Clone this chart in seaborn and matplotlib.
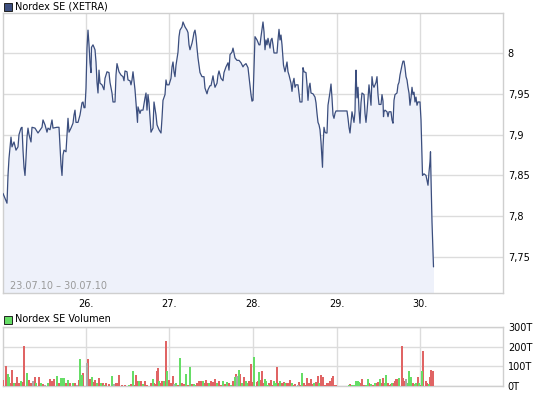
import matplotlib
matplotlib.use("Agg")
import matplotlib.pyplot as plt
import seaborn as sns
import pandas as pd

# ---------------- data ----------------
# time axis in intraday bar units (about one bar per pixel column), 23.07 -> 30.07
bar_t = [0, 2, 4, 5, 6, 7, 8, 9, 11, 13, 15, 16, 18, 19, 20, 21, 22, 23, 24, 25, 26, 28, 29, 32, 35, 39, 40,
         42, 44, 45, 47, 49, 50, 54, 56, 57, 58, 59, 60, 61, 63, 64, 65, 66, 68, 70, 71, 72, 73, 75, 77, 79,
         80, 81, 82, 83, 84, 85, 86, 87, 88, 88.5, 90, 92, 93, 94, 95, 96, 97, 99, 101, 102, 104, 106, 107,
         109, 110, 112, 113, 114, 116, 118, 120, 121, 122, 124, 125, 127, 128, 129, 130, 132, 133, 134, 134.5,
         135, 137, 138, 140, 142, 143, 144, 145, 146, 147, 148, 150, 151, 153, 154, 156, 158, 159, 160, 162,
         163, 164, 166, 168, 169, 170, 171, 172, 173, 175, 176, 177, 179, 180, 182, 184, 185, 186, 187, 189,
         190, 191, 192, 193, 194, 195, 196, 197, 199, 201, 202, 204, 205, 207, 208, 210, 211, 212, 214, 215,
         216, 218, 220, 221, 223, 225, 226, 227, 229, 230, 232, 234, 236, 238, 240, 241, 243, 245, 246, 247,
         248, 249, 250, 251, 252, 254, 256, 257, 258, 260, 261, 262, 263, 264, 265, 267, 268, 269, 270, 271,
         274, 275, 276, 277, 278, 279, 280, 280.5, 282, 283, 284, 285, 286, 288, 289, 290, 291, 292, 293, 295,
         296, 297, 299, 300, 301, 303, 304, 305, 306, 307, 308, 310, 312, 313, 314, 315, 316, 317, 318, 319,
         319.5, 320, 321, 322, 323, 324, 325, 327, 328, 329, 330, 331, 332, 333, 344, 345, 346, 347, 348, 349,
         351, 352, 352.5, 353, 354, 355, 356, 357, 358, 359, 361, 362, 363, 364, 365, 366, 367, 368, 369, 370,
         371, 373, 374, 375, 376, 378, 379, 380, 380.5, 381, 382, 384, 385, 386, 388, 389, 390, 391, 392, 394,
         395, 396, 397, 398, 399, 400, 401, 402, 403, 404, 405, 406, 407, 408, 409, 410, 411, 412, 413, 414,
         415, 417, 418, 419, 419.5, 421, 423, 424, 425, 426, 427, 427.5, 428, 429, 430, 430.5]
price = [7.828, 7.822, 7.816, 7.850, 7.871, 7.884, 7.897, 7.885, 7.891, 7.881, 7.885, 7.900, 7.908, 7.909,
         7.881, 7.860, 7.850, 7.871, 7.897, 7.908, 7.900, 7.891, 7.909, 7.908, 7.902, 7.909, 7.918, 7.912,
         7.903, 7.908, 7.906, 7.918, 7.908, 7.909, 7.909, 7.887, 7.863, 7.850, 7.875, 7.881, 7.879, 7.900,
         7.920, 7.903, 7.908, 7.914, 7.924, 7.930, 7.915, 7.915, 7.924, 7.939, 7.940, 7.933, 7.933, 7.957,
         8.006, 8.028, 8.010, 7.988, 7.976, 8.007, 8.010, 8.004, 7.989, 7.964, 7.951, 7.979, 7.963, 7.961,
         7.955, 7.969, 7.977, 7.976, 7.964, 7.951, 7.940, 7.940, 7.973, 7.987, 7.977, 7.973, 7.971, 7.966,
         7.978, 7.977, 7.967, 7.966, 7.961, 7.967, 7.977, 7.955, 7.939, 7.924, 7.915, 7.934, 7.926, 7.930,
         7.930, 7.945, 7.951, 7.930, 7.949, 7.939, 7.920, 7.903, 7.908, 7.940, 7.924, 7.912, 7.906, 7.902,
         7.920, 7.942, 7.949, 7.967, 7.961, 7.961, 7.969, 7.983, 7.989, 7.977, 7.971, 7.985, 8.001, 8.020,
         8.028, 8.032, 8.038, 8.032, 8.028, 8.025, 8.010, 8.004, 8.012, 8.018, 8.025, 8.028, 8.020, 8.006,
         7.994, 7.985, 7.976, 7.971, 7.971, 7.957, 7.950, 7.955, 7.960, 7.960, 7.972, 7.964, 7.958, 7.963,
         7.973, 7.978, 7.969, 7.966, 7.976, 7.983, 7.988, 7.979, 7.998, 8.001, 8.006, 7.994, 7.991, 7.991,
         7.988, 7.983, 7.985, 7.987, 7.982, 7.971, 7.961, 7.949, 7.941, 7.942, 7.982, 8.020, 8.016, 8.010,
         8.010, 8.020, 8.038, 8.026, 8.004, 8.016, 8.010, 8.018, 8.006, 8.016, 8.018, 8.010, 8.000, 8.000,
         8.016, 8.029, 8.016, 8.022, 8.010, 7.994, 7.985, 7.977, 7.983, 7.989, 7.977, 7.973, 7.963, 7.953,
         7.964, 7.969, 7.958, 7.961, 7.961, 7.951, 7.940, 7.940, 7.982, 7.977, 7.976, 7.961, 7.942, 7.958,
         7.963, 7.951, 7.950, 7.946, 7.939, 7.926, 7.915, 7.912, 7.906, 7.891, 7.871, 7.860, 7.885, 7.909,
         7.903, 7.902, 7.902, 7.936, 7.952, 7.962, 7.945, 7.924, 7.920, 7.926, 7.929, 7.929, 7.920, 7.909,
         7.902, 7.915, 7.928, 7.915, 7.928, 7.961, 7.979, 7.945, 7.958, 7.930, 7.914, 7.939, 7.951, 7.949,
         7.926, 7.915, 7.928, 7.945, 7.961, 7.949, 7.936, 7.971, 7.961, 7.958, 7.964, 7.971, 7.949, 7.937,
         7.937, 7.949, 7.941, 7.922, 7.928, 7.930, 7.928, 7.922, 7.928, 7.928, 7.918, 7.914, 7.942, 7.949,
         7.951, 7.961, 7.964, 7.973, 7.979, 7.985, 7.990, 7.990, 7.982, 7.971, 7.967, 7.958, 7.951, 7.936,
         7.945, 7.958, 7.949, 7.952, 7.940, 7.946, 7.936, 7.940, 7.940, 7.918, 7.871, 7.850, 7.852, 7.850,
         7.844, 7.838, 7.854, 7.867, 7.879, 7.847, 7.793, 7.756, 7.738]

vol_t = [0, 3, 5, 6, 8, 9, 11, 12, 14, 16, 18, 19, 21, 24, 26, 28, 30, 32, 33, 36, 38, 40, 42, 45, 47, 49, 51,
         54, 56, 58, 60, 61, 63, 65, 67, 70, 72, 74, 76, 77, 79, 80, 84, 85, 87, 89, 90, 92, 94, 96, 98, 100,
         101, 103, 106, 109, 111, 113, 114, 116, 119, 122, 126, 128, 130, 132, 133, 134, 136, 138, 140, 142,
         144, 148, 150, 151, 152, 154, 155, 156, 158, 159, 161, 163, 164, 166, 168, 170, 171, 173, 175, 177,
         179, 181, 183, 185, 187, 189, 191, 192, 194, 196, 198, 200, 201, 203, 204, 206, 208, 210, 212, 214,
         216, 218, 220, 222, 224, 226, 228, 230, 232, 233, 234, 236, 237, 239, 241, 243, 244, 246, 248, 250,
         251, 254, 255, 256, 258, 259, 260, 262, 263, 265, 266, 268, 270, 271, 273, 274, 276, 277, 279, 281,
         282, 284, 285, 287, 289, 291, 292, 295, 296, 298, 299, 301, 303, 304, 306, 308, 309, 311, 313, 315,
         316, 318, 319, 320, 322, 324, 326, 327, 329, 330, 332, 333, 346, 347, 349, 351, 353, 354, 355, 356,
         358, 359, 361, 363, 365, 366, 368, 370, 372, 373, 375, 377, 379, 380, 382, 383, 385, 386, 388, 389,
         390, 392, 393, 395, 396, 399, 400, 402, 403, 405, 406, 408, 410, 412, 413, 415, 416, 417, 419, 420,
         423, 424, 426, 427, 428, 430]
volume = [31, 102, 61, 48, 17, 82, 17, 14, 48, 17, 24, 20, 204, 68, 31, 14, 26, 44, 14, 48, 14, 10, 7, 14,
          34, 27, 37, 51, 14, 41, 41, 41, 17, 31, 14, 14, 14, 7, 31, 139, 56, 65, 119, 139, 34, 44, 20, 31,
          17, 41, 17, 17, 7, 14, 10, 51, 10, 17, 17, 54, 7, 7, 7, 10, 78, 7, 54, 24, 27, 24, 10, 27, 7, 14,
          34, 14, 10, 78, 92, 27, 17, 27, 27, 231, 78, 31, 17, 51, 10, 14, 7, 143, 17, 10, 61, 7, 99, 10, 10,
          7, 14, 27, 27, 27, 17, 31, 17, 14, 27, 20, 34, 14, 27, 7, 27, 10, 20, 17, 7, 27, 44, 61, 51, 82, 61,
          14, 48, 27, 17, 27, 112, 22, 150, 22, 27, 73, 31, 78, 14, 37, 27, 7, 14, 31, 7, 27, 17, 99, 14, 27,
          17, 20, 14, 17, 14, 31, 14, 7, 10, 7, 20, 7, 68, 14, 7, 41, 14, 37, 10, 14, 20, 51, 17, 54, 17, 44,
          7, 17, 14, 27, 41, 51, 7, 7, 7, 10, 7, 7, 24, 20, 27, 20, 14, 37, 7, 7, 37, 17, 10, 7, 14, 14, 20,
          37, 14, 41, 17, 54, 14, 7, 10, 14, 17, 27, 37, 37, 41, 204, 41, 27, 37, 17, 78, 44, 14, 10, 17, 48,
          17, 7, 78, 180, 27, 17, 10, 44, 82, 78]
vol_dir = list("rrggrrgrrrgrrgrrnrgrgrngrrrgrgggrgrgrnrggrnrrgrrgrgrgrrgnrrrrrgrgrrrgrgrrrgrrrrgrrgrgrrrngrgrrgr"
               "grggrrrgrrrgrrrgrrgrgrgrgrngrgrggrrrgrrgrrrgggrrrggrrgrrgrrrgrrnrrgrrrrrrgrrgrrrrrrrrrrrgrggg"
               "rggrrrggrgrgrrgrrggrrrgrrrrgrrrngggrggrgrgrrrgrrrgrgrrgr")

day_starts = [83, 166, 250, 334, 417]
day_labels = ["26.", "27.", "28.", "29.", "30."]
price_ticks = [7.75, 7.8, 7.85, 7.9, 7.95, 8.0]
price_tick_labels = ["7,75", "7,8", "7,85", "7,9", "7,95", "8"]
vol_ticks = [0, 100, 200, 300]
vol_tick_labels = ["0T", "100T", "200T", "300T"]

# ---------------- style ----------------
sns.set_theme(style="white")
plt.rcParams["font.family"] = ["DejaVu Sans"]
GRID = "#dcdcdc"
FRAME = "#cfcfcf"
LINE = "#3b4e7e"
FILL = "#eef1fa"
pal = {"r": "#e06464", "g": "#66dd66", "n": "#aaaaaa"}

W, H = 545, 395
fig = plt.figure(figsize=(W / 100, H / 100), dpi=100)


def box(l, t, r, b):
    return [l / W, 1 - b / H, (r - l) / W, (b - t) / H]


ax1 = fig.add_axes(box(3, 13, 503, 293))
ax2 = fig.add_axes(box(3, 327, 503, 386))

n = min(len(bar_t), len(price))
df = pd.DataFrame({"t": bar_t[:n], "price": price[:n]})
ymin, ymax = 7.706, 8.049
ax1.fill_between(df["t"], df["price"], ymin, color=FILL, lw=0, zorder=1)
sns.lineplot(data=df, x="t", y="price", ax=ax1, color=LINE, lw=0.9, estimator=None, sort=False, zorder=3)
ax1.set_xlim(0, 500)
ax1.set_ylim(ymin, ymax)

m = min(len(vol_t), len(volume), len(vol_dir))
vdf = pd.DataFrame({"t": vol_t[:m], "vol": volume[:m], "dir": vol_dir[:m]})
for d, c in pal.items():
    sub = vdf[vdf["dir"] == d]
    ax2.bar(sub["t"], sub["vol"], width=1.1, color=c, lw=0, zorder=3)
ax2.set_xlim(0, 500)
ax2.set_ylim(0, 300)

for ax in (ax1, ax2):
    ax.set_xlabel("")
    ax.set_ylabel("")
    ax.set_xticks(day_starts)
    ax.grid(True, color=GRID, lw=1.0, zorder=0)
    ax.set_axisbelow(True)
    for s in ax.spines.values():
        s.set_color(FRAME)
        s.set_linewidth(1.0)
    ax.yaxis.tick_right()
    ax.tick_params(length=0, labelsize=7, colors="black", pad=3.5)

ax1.set_xticklabels(day_labels)
ax1.set_yticks(price_ticks)
ax1.set_yticklabels(price_tick_labels)
ax1.tick_params(axis="x", pad=4.5)
ax2.set_xticklabels([])
ax2.set_yticks(vol_ticks)
ax2.set_yticklabels(vol_tick_labels)

# headers
fig.patches.append(plt.Rectangle((4 / W, 1 - 10.5 / H), 8 / W, 8 / H, transform=fig.transFigure,
                                 facecolor="#3d4f7f", edgecolor="#222222", lw=0.7))
fig.text(15 / W, 1 - 6.5 / H, "Nordex SE (XETRA)", fontsize=7, va="center", ha="left", color="black")
fig.patches.append(plt.Rectangle((4 / W, 1 - 323.5 / H), 8 / W, 8 / H, transform=fig.transFigure,
                                 facecolor="#66dd66", edgecolor="#222222", lw=0.7))
fig.text(15 / W, 1 - 319.5 / H, "Nordex SE Volumen", fontsize=7, va="center", ha="left", color="black")
fig.text(10 / W, 1 - 286 / H, "23.07.10 \u2013 30.07.10", fontsize=7, va="center", ha="left", color="#9a9a9a")

fig.savefig("out.png", dpi=100)
